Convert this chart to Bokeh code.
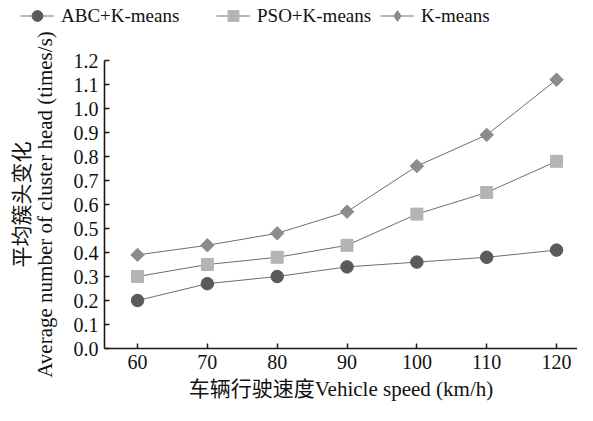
import math
from bokeh.plotting import figure
from bokeh.models import Range1d, FixedTicker, PrintfTickFormatter, Legend, LegendItem
from bokeh.embed import file_html
from bokeh.resources import INLINE

speeds = [60, 70, 80, 90, 100, 110, 120]
abc_kmeans = [0.20, 0.27, 0.30, 0.34, 0.36, 0.38, 0.41]
pso_kmeans = [0.30, 0.35, 0.38, 0.43, 0.56, 0.65, 0.78]
kmeans = [0.39, 0.43, 0.48, 0.57, 0.76, 0.89, 1.12]
y_ticks = [0.0, 0.1, 0.2, 0.3, 0.4, 0.5, 0.6, 0.7, 0.8, 0.9, 1.0, 1.1, 1.2]

FONT = "Liberation Serif, Noto Sans CJK SC"
LINE_COLOR = "#6e6e6e"

W = 577
LEG_H = 29
TOP, BOTTOM, LEFT = 60 - LEG_H, 57, 104
H = 405 - LEG_H

# legend strip: no axes, its frame spans the whole strip, so nothing is clipped
pl = figure(width=W, height=LEG_H, output_backend="svg", toolbar_location=None,
            x_range=Range1d(0, 1), y_range=Range1d(0, 1),
            x_axis_location=None, y_axis_location=None,
            min_border=0, min_border_left=0, min_border_right=0,
            min_border_top=0, min_border_bottom=0)
pl.grid.visible = False
pl.outline_line_color = None

p = figure(width=W, height=H, output_backend="svg", toolbar_location=None,
           x_range=Range1d(55.27, 123.0), y_range=Range1d(0, 1.2),
           min_border_left=LEFT, min_border_right=0, min_border_top=TOP,
           min_border_bottom=BOTTOM)
p.outline_line_color = None
p.grid.visible = False

# name, values, chart marker, size, colour, angle, legend marker
series = [
    ("ABC+K-means", abc_kmeans, "circle", 12.5, "#5a5a5a", 0, "circle"),
    ("PSO+K-means", pso_kmeans, "square", 12, "#b4b4b4", 0, "square"),
    ("K-means", kmeans, "square", 9.5, "#8c8c8c", math.pi / 4, "diamond"),
]

legend_x = [20, 216, 380]
for (name, ys, marker, size, color, ang, lmarker), lx in zip(series, legend_x):
    p.line(speeds, ys, line_color=LINE_COLOR, line_width=1)
    p.scatter(speeds, ys, marker=marker, size=size, fill_color=color,
              line_color=color, angle=ang)
    # legend-only copies in the strip; their data lies outside its (0..1) ranges
    l = pl.line(speeds, ys, line_color=LINE_COLOR, line_width=1)
    s = pl.scatter(speeds, ys, marker=lmarker, size=size, fill_color=color,
                   line_color=color)
    leg = Legend(items=[LegendItem(label=name, renderers=[l, s])],
                 location=(lx, 0), orientation="horizontal",
                 padding=0, margin=0, spacing=0, glyph_width=34, glyph_height=27,
                 label_standoff=7, border_line_alpha=0, background_fill_alpha=0,
                 label_text_font=FONT, label_text_font_size="19px",
                 label_text_color="#111111")
    pl.add_layout(leg, "center")

p.xaxis.ticker = FixedTicker(ticks=speeds)
p.yaxis.ticker = FixedTicker(ticks=y_ticks)
p.yaxis.formatter = PrintfTickFormatter(format="%.1f")

for ax in (p.xaxis, p.yaxis):
    ax.axis_line_width = 1.6
    ax.axis_line_color = "#1a1a1a"
    ax.major_tick_line_color = "#1a1a1a"
    ax.major_tick_line_width = 1.5
    ax.major_tick_in = 5
    ax.major_tick_out = 0
    ax.minor_tick_line_color = None
    ax.major_label_text_font = FONT
    ax.major_label_text_font_size = "20px"
    ax.major_label_text_color = "#111111"
    ax.axis_label_text_font = FONT
    ax.axis_label_text_font_size = "21px"
    ax.axis_label_text_font_style = "normal"
    ax.axis_label_text_color = "#111111"

p.xaxis.major_label_standoff = 6
p.yaxis.major_label_standoff = 6
p.xaxis.axis_label = "车辆行驶速度Vehicle speed (km/h)"
p.yaxis.axis_label = "平均簇头变化\nAverage number of cluster head (times/s)"
p.xaxis.axis_label_standoff = 5
p.yaxis.axis_label_standoff = 14
p.yaxis.axis_label_text_line_height = 0.95

# two separate roots stacked on the page (legend strip, then the chart),
# so the strip's frame is not aligned to the chart's frame
open("out.html", "w").write(file_html([pl, p], INLINE))
